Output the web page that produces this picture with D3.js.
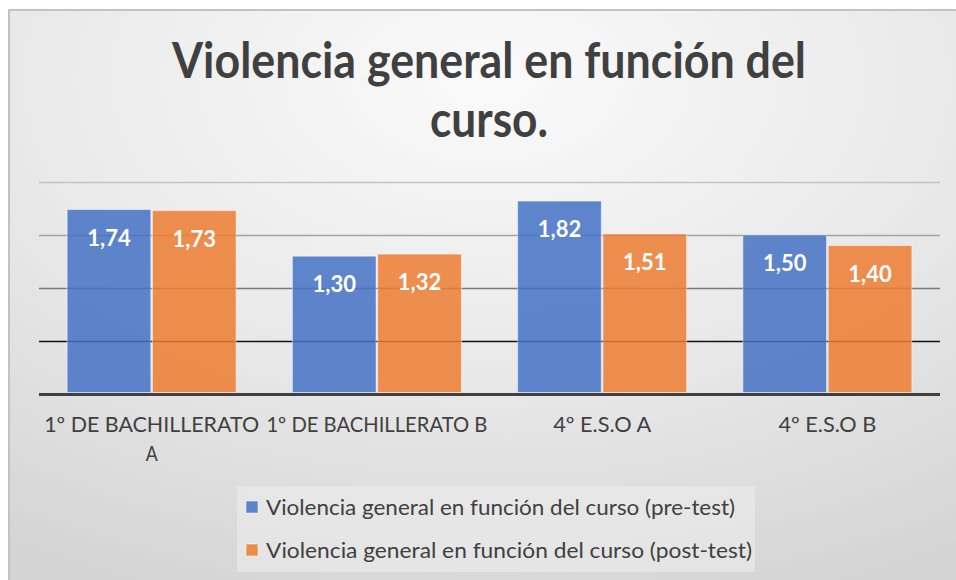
<!DOCTYPE html>
<html><head><meta charset="utf-8">
<script src="https://cdn.jsdelivr.net/npm/d3@7"></script>
<style>html,body{margin:0;padding:0;background:#fff;}svg{display:block;}</style>
</head><body>
<svg id="c" width="956" height="580"></svg>
<script>
const categories = ["1º DE BACHILLERATO A", "1º DE BACHILLERATO B", "4º E.S.O A", "4º E.S.O B"];
const categoryLines = [["1º DE BACHILLERATO", "A"], ["1º DE BACHILLERATO B"], ["4º E.S.O A"], ["4º E.S.O B"]];
const seriesNames = ["Violencia general en función del curso (pre-test)", "Violencia general en función del curso (post-test)"];
const preTest = [1.74, 1.30, 1.82, 1.50];
const postTest = [1.73, 1.32, 1.51, 1.40];
const yTicks = [0, 0.5, 1, 1.5, 2];
const titleLines = ["Violencia general en función del", "curso."];
const colors = ["#4472c4", "#ed7d31"];

const svg = d3.select("#c");
const W = 956, H = 580;
const font = "Lato, 'Open Sans', sans-serif";

const defs = svg.append("defs");
const g = defs.append("radialGradient").attr("id", "bg")
  .attr("cx", "0.5").attr("cy", "0.12").attr("r", "0.95")
  .attr("gradientUnits", "objectBoundingBox");
g.append("stop").attr("offset", "0").attr("stop-color", "#fafafa");
g.append("stop").attr("offset", "0.55").attr("stop-color", "#e8e8e8");
g.append("stop").attr("offset", "1").attr("stop-color", "#d4d4d4");

svg.append("rect").attr("x", 9).attr("y", 10).attr("width", W).attr("height", H)
  .attr("fill", "url(#bg)").attr("stroke", "#c2c2c2").attr("stroke-width", 2);

// fit helper: squeeze/stretch text to a measured width
function fit(sel, w) {
  sel.attr("textLength", w).attr("lengthAdjust", "spacingAndGlyphs");
}

// title
const titleW = [634, 118];
titleLines.forEach((t, i) => {
  const tx = svg.append("text").attr("x", 489).attr("y", [78, 137][i])
    .attr("text-anchor", "middle").attr("font-family", font).attr("font-weight", "bold")
    .attr("font-size", 50).attr("fill", "#404040").text(t);
  fit(tx, titleW[i]);
});

const x0 = d3.scaleBand().domain(categories).range([39, 940]).paddingInner(0.25).paddingOuter(0.125);
const x1 = d3.scaleBand().domain([0, 1]).range([0, x0.bandwidth()]).paddingInner(0.02);
const y = d3.scaleLinear().domain([0, 2]).range([394, 182]);

// gridlines
const gridColors = ["#404040", "#111", "#7a7a7a", "#a3a3a3", "#c4c4c4"];
const yAxis = d3.axisLeft(y).tickValues(yTicks).tickSize(-(940 - 39)).tickFormat("");
const ga = svg.append("g").attr("transform", "translate(39,0)").call(yAxis);
ga.select(".domain").remove();
ga.selectAll(".tick line").attr("stroke", (d, i) => gridColors[i])
  .attr("stroke-width", d => d === 0 ? 3 : 1.6);

// bars
const data = categories.map((c, i) => ({c, v: [preTest[i], postTest[i]]}));
const grp = svg.append("g").selectAll("g").data(data).join("g")
  .attr("transform", d => `translate(${x0(d.c)},0)`);
grp.selectAll("rect").data(d => d.v.map((v, k) => ({v, k}))).join("rect")
  .attr("x", d => x1(d.k)).attr("width", x1.bandwidth())
  .attr("y", d => y(d.v)).attr("height", d => y(0) - y(d.v) - 1.5)
  .attr("fill", d => colors[d.k]).attr("fill-opacity", 0.85)
  .attr("stroke", "#ffffff").attr("stroke-opacity", 0.45).attr("stroke-width", 1);
grp.selectAll("text").data(d => d.v.map((v, k) => ({v, k}))).join("text")
  .attr("x", d => x1(d.k) + x1.bandwidth() / 2).attr("y", d => y(d.v) + 36)
  .attr("text-anchor", "middle").attr("font-family", font).attr("font-weight", "bold")
  .attr("font-size", 22).attr("fill", "#fff")
  .text(d => d3.format(".2f")(d.v).replace(".", ","));

// x labels
const labW = [[215, 12], [221], [98], [98]];
categories.forEach((c, i) => {
  categoryLines[i].forEach((ln, j) => {
    const tx = svg.append("text").attr("x", x0(c) + x0.bandwidth() / 2).attr("y", 432 + j * 29)
      .attr("text-anchor", "middle").attr("font-family", font).attr("font-size", 21)
      .attr("fill", "#404040").text(ln);
    fit(tx, labW[i][j]);
  });
});

// legend
const lg = svg.append("g");
lg.append("rect").attr("x", 237).attr("y", 486).attr("width", 518).attr("height", 86)
  .attr("fill", "#ececec").attr("fill-opacity", 0.6);
const legW = [469, 486];
seriesNames.forEach((s, i) => {
  const cy = 507 + i * 43;
  lg.append("rect").attr("x", 246).attr("y", cy - 6).attr("width", 12).attr("height", 12)
    .attr("fill", colors[i]).attr("fill-opacity", 0.85).attr("stroke", "#fff").attr("stroke-opacity", 0.5);
  const tx = lg.append("text").attr("x", 266).attr("y", cy + 8).attr("font-family", font).attr("font-size", 22)
    .attr("fill", "#404040").text(s);
  fit(tx, legW[i]);
});
</script>
</body></html>
